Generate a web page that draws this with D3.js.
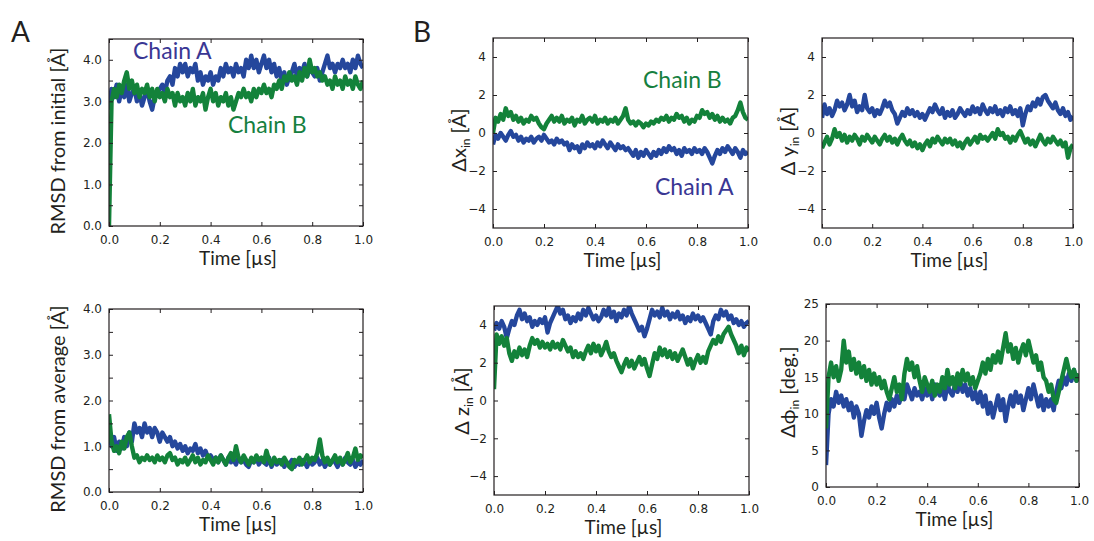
<!DOCTYPE html>
<html>
<head>
<meta charset="utf-8">
<script src="https://cdn.jsdelivr.net/npm/d3@7"></script>
<style>
  body { margin: 0; background: #fff; }
  .tick text { font-family: "DejaVu Sans"; font-size: 12px; fill: #231f20; }
  .tick line { stroke: #231f20; }
  .title { font-family: Lato; fill: #231f20; }
</style>
</head>
<body>
<div id="chart"></div>
<script>
// sampling grid: 101 frames over 1 µs
var timeUs = d3.range(0, 101).map(function(i){ return i / 100; });

// RMSD from initial structure [Å]
var rmsdInitA = [2.8,3.3,3.1,3.4,3.0,3.3,3.1,3.4,3.0,3.2, 3.3,3.0,3.2,2.9,3.1,3.3,3.0,2.8,3.1,3.2,
  3.3,3.4,3.2,3.5,3.6,3.4,3.8,3.6,3.9,3.7, 3.9,3.6,3.8,3.7,3.9,3.5,3.7,3.4,3.6,3.5,
  3.7,3.4,3.6,3.5,3.8,3.6,3.9,3.7,3.8,3.6, 3.9,3.7,3.8,3.6,4.0,3.8,4.1,3.8,4.0,3.7,
  3.9,4.1,3.8,4.0,3.7,3.9,3.6,3.8,3.5,3.7, 3.4,3.6,3.7,3.9,3.6,3.8,3.7,3.9,3.6,3.8,
  3.7,3.6,3.8,3.5,3.7,3.9,4.1,3.8,3.9,3.7, 3.9,3.8,4.0,3.8,3.9,3.7,4.0,3.8,4.1,3.9,3.8];
var rmsdInitB = [0.0,3.0,3.3,3.1,3.4,3.2,3.5,3.7,3.3,3.5, 3.2,3.4,3.1,3.3,3.2,3.4,3.1,3.3,3.0,3.3,
  3.1,3.2,3.0,3.3,3.1,3.2,2.9,3.2,3.0,3.1, 2.9,3.2,3.0,3.3,2.9,3.1,3.0,3.2,2.8,3.1,
  3.3,3.0,3.2,2.9,3.1,3.0,3.2,2.9,3.1,2.8, 3.0,3.2,3.1,3.3,3.1,3.2,3.0,3.3,3.1,3.3,
  3.2,3.4,3.2,3.3,3.1,3.4,3.3,3.5,3.3,3.6, 3.5,3.7,3.5,3.6,3.4,3.7,3.5,3.8,3.6,4.0,
  3.7,3.8,3.6,3.7,3.5,3.6,3.4,3.5,3.3,3.6, 3.4,3.5,3.3,3.6,3.4,3.5,3.3,3.6,3.4,3.3,3.5];

// RMSD from average structure [Å]
var rmsdAvgA = [1.3,1.0,1.2,0.9,1.1,0.95,1.2,1.0,1.3,1.1, 1.5,1.3,1.4,1.2,1.5,1.3,1.4,1.2,1.4,1.3,
  1.1,1.3,1.2,1.1,1.2,1.0,1.1,0.95,1.05,0.9, 1.0,0.85,0.95,0.9,1.05,0.85,0.95,0.8,0.9,0.75,
  0.8,0.7,0.75,0.65,0.8,0.7,0.6,0.75,0.65,0.7, 0.6,0.75,0.65,0.7,0.6,0.55,0.7,0.65,0.75,0.6,
  0.7,0.65,0.6,0.75,0.55,0.7,0.6,0.65,0.7,0.55, 0.65,0.6,0.7,0.55,0.65,0.6,0.7,0.65,0.55,0.7,
  0.6,0.65,0.75,0.6,0.7,0.55,0.65,0.6,0.7,0.65, 0.55,0.7,0.6,0.75,0.65,0.6,0.7,0.55,0.65,0.6,0.7];
var rmsdAvgB = [1.7,1.1,0.9,1.0,0.85,1.1,0.95,1.2,1.3,1.0, 0.75,0.8,0.65,0.75,0.7,0.8,0.7,0.75,0.65,0.8,
  0.7,0.75,0.65,0.8,0.85,0.7,0.75,0.6,0.7,0.65, 0.75,0.6,0.7,0.8,0.65,0.75,0.6,0.7,0.65,0.8,
  0.7,0.6,0.75,0.65,0.8,0.7,0.6,0.75,0.85,0.7, 1.0,0.75,0.65,0.8,0.7,0.6,0.75,0.65,0.8,0.7,
  0.75,0.65,0.9,0.7,0.6,0.75,0.65,0.7,0.6,0.75, 0.65,0.55,0.5,0.7,0.65,0.75,0.6,0.7,0.8,0.65,
  0.75,0.7,0.85,1.15,0.8,0.65,0.75,0.6,0.7,0.8, 0.65,0.75,0.6,0.7,0.85,0.65,0.75,0.95,0.7,0.8,0.75];

// Δx_in [Å]
var dxA = [-0.6,-0.1,-0.3,0.0,-0.2,-0.4,-0.1,0.1,-0.2,-0.1, -0.4,-0.2,-0.5,-0.3,-0.4,-0.2,-0.5,-0.3,-0.2,-0.4,
  -0.1,-0.3,-0.5,-0.4,-0.6,-0.3,-0.5,-0.4,-0.6,-0.5, -0.9,-0.6,-0.8,-0.7,-1.0,-0.6,-0.8,-0.5,-0.7,-0.6,
  -0.8,-0.5,-0.7,-0.4,-0.6,-0.8,-0.5,-0.7,-0.9,-0.6, -0.8,-0.7,-0.9,-0.8,-1.0,-1.2,-0.9,-1.3,-1.0,-1.2,
  -0.9,-1.1,-1.3,-1.0,-1.2,-0.9,-1.1,-0.8,-1.0,-0.7, -0.9,-0.8,-1.1,-0.9,-1.2,-0.8,-1.0,-0.9,-1.1,-0.8,
  -1.0,-0.9,-1.1,-0.8,-1.0,-1.3,-1.6,-1.2,-0.9,-1.1, -0.8,-1.0,-0.7,-0.9,-1.1,-0.8,-1.0,-1.3,-0.9,-1.1,-1.0];
var dxB = [0.0,0.8,0.6,1.0,0.7,1.3,0.9,1.1,0.7,0.9, 0.6,0.8,0.5,0.7,0.6,0.9,0.7,0.8,0.5,0.3,
  0.2,0.5,0.7,0.9,0.6,0.8,0.6,0.9,0.5,0.7, 0.6,0.8,0.4,0.7,0.6,0.9,0.5,0.7,0.8,0.6,
  0.9,0.5,0.7,0.6,0.8,0.5,0.7,0.6,0.8,0.5, 0.7,0.9,1.3,0.7,0.5,0.6,0.4,0.6,0.5,0.3,
  0.5,0.4,0.6,0.5,0.7,0.6,0.8,0.7,0.9,0.6, 0.8,0.7,1.0,0.8,0.9,0.6,0.8,0.5,0.7,0.6,
  0.9,0.8,1.2,1.0,1.1,0.8,1.0,0.7,0.9,0.6, 0.8,0.6,0.7,0.5,0.8,0.9,1.2,1.6,1.1,0.8,0.7];

// Δy_in [Å]
var dyA = [0.8,1.5,1.0,1.3,0.9,1.2,1.7,1.4,1.6,1.2, 1.5,2.0,1.4,1.7,1.1,1.4,1.2,2.0,1.3,1.1,
  1.3,0.9,1.2,1.0,1.3,1.7,1.4,1.6,1.2,1.0, 0.5,0.8,1.1,0.9,1.3,1.0,1.2,0.9,1.1,0.8,
  1.0,0.7,1.0,1.3,1.1,1.5,1.2,1.0,1.3,0.8, 1.1,0.9,1.2,0.8,1.0,1.3,1.1,0.9,1.2,1.0,
  1.4,1.1,1.3,1.0,1.5,1.2,1.0,1.3,1.1,1.4, 1.0,1.2,0.9,1.3,1.1,1.4,1.0,1.2,0.9,1.3,
  0.4,1.0,1.4,1.2,1.6,1.4,1.8,1.5,1.9,2.0, 1.7,1.5,1.3,1.6,1.2,1.0,1.3,0.9,1.1,0.7,0.9];
var dyB = [-0.8,-0.5,-0.2,-0.6,-0.3,0.2,-0.2,0.0,-0.4,-0.1, -0.5,-0.2,-0.4,-0.1,-0.3,-0.6,-0.2,-0.4,-0.1,-0.3,
  -0.5,-0.2,-0.4,-0.6,-0.3,-0.1,-0.4,-0.2,-0.5,-0.3, -0.6,-0.3,-0.1,-0.4,-0.6,-0.4,-0.7,-0.5,-0.8,-0.6,
  -0.9,-0.6,-0.4,-0.7,-0.3,-0.5,-0.2,-0.4,-0.6,-0.3, -0.5,-0.3,-0.6,-0.4,-0.7,-0.5,-0.8,-0.5,-0.3,-0.6,
  -0.4,-0.2,-0.5,-0.1,-0.3,-0.2,-0.4,-0.2,0.0,-0.3, 0.2,-0.1,0.0,-0.3,-0.2,-0.5,-0.2,-0.4,-0.1,0.1,
  -0.2,-0.5,-0.3,-0.6,-0.4,-0.7,-0.4,-0.1,-0.4,-0.6, -0.3,-0.5,-0.2,-0.4,-0.6,-0.4,-0.7,-0.5,-1.3,-0.8,-0.6];

// Δz_in [Å]
var dzA = [3.7,4.1,3.8,4.2,3.9,3.3,3.8,4.2,4.0,4.5, 4.8,4.3,4.6,4.2,4.4,3.9,4.2,4.0,4.3,4.1,
  4.4,3.6,4.1,4.4,4.7,5.0,4.6,4.8,4.3,4.5, 4.1,4.4,4.2,4.6,4.3,4.8,4.5,4.9,4.6,4.3,
  4.5,4.2,4.4,4.8,4.5,4.9,4.4,4.7,4.2,4.6, 4.4,4.8,4.5,5.0,4.6,4.3,4.0,3.7,3.9,3.4,
  3.8,4.3,4.8,4.5,4.7,4.4,4.9,4.5,4.7,4.3, 4.6,4.4,4.7,4.3,4.5,4.1,4.4,4.2,4.6,4.3,
  4.5,4.2,4.4,4.1,3.8,3.5,4.2,4.5,4.3,4.8, 4.5,4.7,4.3,4.5,4.1,4.3,4.0,4.2,3.9,4.1,4.2];
var dzB = [0.6,3.5,3.0,3.4,2.9,3.3,2.5,2.1,2.6,2.3, 2.8,2.4,2.7,2.3,2.9,3.3,3.0,3.2,2.8,3.1,
  2.8,3.0,2.7,3.1,2.8,3.0,2.7,3.2,2.9,2.6, 2.8,2.3,2.6,2.3,2.5,2.2,2.6,2.9,2.5,3.0,
  2.6,2.9,2.4,2.7,3.1,2.6,2.3,2.5,2.1,1.8, 1.5,1.9,2.2,1.8,2.1,1.7,2.0,2.3,1.9,2.2,
  1.7,1.3,1.9,2.5,2.2,2.8,2.4,2.7,2.3,2.6, 2.2,2.5,2.1,2.4,2.7,2.3,1.9,2.2,1.7,2.1,
  2.4,2.0,2.3,2.0,2.6,2.9,3.2,3.0,3.4,3.1, 3.5,3.7,3.9,3.5,3.2,2.9,2.5,2.9,2.4,2.8,2.6];

// Δφ_in [deg.]
var dphiA = [3,10,12,11,13,11.5,12.5,11,12,10.5, 11.5,9.5,11,10,7,9,10.5,9.5,11,10,
  11.5,9.5,8,10,11.5,10.5,12,11,12.5,11.5, 13,12,14,13,12,13.5,12.5,13,12,13.5,
  12.5,13.5,12,14,13,12.5,13.5,12,14,13, 12.5,14,13,14.5,13,14,12.5,13.5,12,13,
  11.5,13,11,12.5,10,11.5,9.5,11,12.5,10.5, 12,9,11,12.5,11,13,11.5,12.5,10.5,12,
  13.5,12,14,12.5,11,12.5,10.5,12,11,12, 10.5,13,14.5,13.5,15,14,15.5,14.5,16,14.5,15];
var dphiB = [8,15,17,15,16.5,14.5,16,20,17,18.5, 16,17.5,15.5,17,15,16.5,14.5,16,14,15.5,
  14,15,13.5,14.5,13,12,13.5,15,13,14, 12,15.5,17.5,16,17,15,16.5,14.5,13,15,
  14,13,14.5,12.5,14,13,15,13.5,16,14, 15,13.5,15.5,14,16,14.5,15.5,14,15,13.5,
  14.5,15.5,17,15.5,17.5,16,18,17,18.5,17, 19,21,18.5,19.5,17.5,19,17,18.5,19.5,18,
  20,18.5,17,18,16,17,15,14.5,13,14, 12,11.5,13,14.5,16,17.5,16,15,16,14.5,15.5];

var xTicks = [0, 0.2, 0.4, 0.6, 0.8, 1.0];
var colorA = "#25479c", colorB = "#13823a";
var textA = "#3a3794", textB = "#168040";

var svg = d3.select("#chart").append("svg")
  .attr("width", 1094)
  .attr("height", 541);

var panels = [
  {x0: 109, x1: 363, y0: 39, y1: 226, dom: [0, 4.5], ticks: d3.range(0, 4.51, 0.5), fmt: "rmsd",
   a: rmsdInitA, b: rmsdInitB, ytitle: [["RMSD from initial [Å]"]], ty: 141, tx: 65},
  {x0: 109, x1: 363, y0: 309, y1: 492, dom: [0, 4], ticks: d3.range(0, 4.01, 0.5), fmt: "rmsd",
   a: rmsdAvgA, b: rmsdAvgB, ytitle: [["RMSD from average [Å]"]], ty: 409, tx: 65},
  {x0: 493, x1: 748, y0: 38, y1: 228, dom: [-5, 5], ticks: [-4, -2, 0, 2, 4], fmt: "int",
   a: dxA, b: dxB, ytitle: [["Δx"], ["in", "sub"], [" [Å]"]], ty: 140, tx: 466},
  {x0: 822, x1: 1073, y0: 38, y1: 228, dom: [-5, 5], ticks: [-4, -2, 0, 2, 4], fmt: "int",
   a: dyA, b: dyB, ytitle: [["Δ y"], ["in", "sub"], [" [Å]"]], ty: 141, tx: 795},
  {x0: 494, x1: 749, y0: 306, y1: 495, dom: [-5, 5], ticks: [-4, -2, 0, 2, 4], fmt: "int",
   a: dzA, b: dzB, ytitle: [["Δ z"], ["in", "sub"], [" [Å]"]], ty: 401, tx: 469},
  {x0: 826, x1: 1079, y0: 304, y1: 487, dom: [0, 25], ticks: [0, 5, 10, 15, 20, 25], fmt: "int",
   a: dphiA, b: dphiB, ytitle: [["Δϕ"], ["in", "sub"], [" [deg.]"]], ty: 392, tx: 795}
];

panels.forEach(function(p, k){
  var x = d3.scaleLinear().domain([0, 1]).range([p.x0, p.x1]);
  var y = d3.scaleLinear().domain(p.dom).range([p.y1, p.y0]);
  var g = svg.append("g");

  g.append("clipPath").attr("id", "clip" + k)
    .append("rect")
      .attr("x", p.x0).attr("y", p.y0)
      .attr("width", p.x1 - p.x0).attr("height", p.y1 - p.y0);

  var line = d3.line()
    .x(function(d, i){ return x(timeUs[i]); })
    .y(function(d){ return y(d); });

  [[p.a, colorA], [p.b, colorB]].forEach(function(s){
    g.append("path")
      .datum(s[0])
      .attr("clip-path", "url(#clip" + k + ")")
      .attr("d", line)
      .attr("fill", "none")
      .attr("stroke", s[1])
      .attr("stroke-width", 4.4)
      .attr("stroke-linejoin", "round");
  });

  var yfmt = function(d){
    if (p.fmt == "rmsd") return (d % 1 == 0) ? d.toFixed(1) : "";
    return d < 0 ? "\u2212" + Math.abs(d) : String(d);
  };

  g.append("g")
    .attr("transform", "translate(0," + p.y1 + ")")
    .call(d3.axisBottom(x).tickValues(xTicks).tickSize(-4).tickSizeOuter(0).tickPadding(9)
      .tickFormat(d3.format(".1f")));
  g.append("g")
    .attr("transform", "translate(0," + p.y0 + ")")
    .call(d3.axisTop(x).tickValues(xTicks).tickSize(-4).tickSizeOuter(0).tickFormat(""));
  g.append("g")
    .attr("transform", "translate(" + p.x0 + ",0)")
    .call(d3.axisLeft(y).tickValues(p.ticks).tickSize(-4).tickSizeOuter(0).tickPadding(7)
      .tickFormat(yfmt));
  g.append("g")
    .attr("transform", "translate(" + p.x1 + ",0)")
    .call(d3.axisRight(y).tickValues(p.ticks).tickSize(-4).tickSizeOuter(0).tickFormat(""));
  g.selectAll(".domain").remove();

  g.append("rect")
    .attr("x", p.x0).attr("y", p.y0)
    .attr("width", p.x1 - p.x0).attr("height", p.y1 - p.y0)
    .attr("fill", "none").attr("stroke", "#231f20").attr("stroke-width", 1.2);

  g.append("text")
    .attr("class", "title")
    .attr("x", (p.x0 + p.x1) / 2 + 2)
    .attr("y", p.y1 + 39)
    .attr("text-anchor", "middle")
    .style("font-size", "19px")
    .text("Time [µs]");

  var yt = g.append("text")
    .attr("class", "title")
    .attr("transform", "translate(" + p.tx + "," + p.ty + ") rotate(-90)")
    .attr("text-anchor", "middle")
    .style("font-size", "20px");
  yt.selectAll("tspan")
    .data(p.ytitle)
    .enter().append("tspan")
      .attr("dy", function(d, i){
        if (d[1] == "sub") return 4;
        return i > 0 ? -4 : 0;
      })
      .style("font-size", function(d){ return d[1] == "sub" ? "12px" : null; })
      .text(function(d){ return d[0]; });
});

// panel letters
svg.append("text").attr("class", "title").attr("x", 11).attr("y", 42)
  .style("font-size", "28px").text("A");
svg.append("text").attr("class", "title").attr("x", 413).attr("y", 42)
  .style("font-size", "28px").text("B");

// chain labels
var labels = [
  {text: "Chain A", x: 133, y: 59, c: textA},
  {text: "Chain B", x: 228, y: 133, c: textB},
  {text: "Chain B", x: 643, y: 88, c: textB},
  {text: "Chain A", x: 655, y: 195, c: textA}
];
svg.selectAll(".chain")
  .data(labels)
  .enter().append("text")
    .attr("class", "title chain")
    .attr("x", function(d){ return d.x; })
    .attr("y", function(d){ return d.y; })
    .style("font-size", "23px")
    .style("fill", function(d){ return d.c; })
    .text(function(d){ return d.text; });
</script>
</body>
</html>
